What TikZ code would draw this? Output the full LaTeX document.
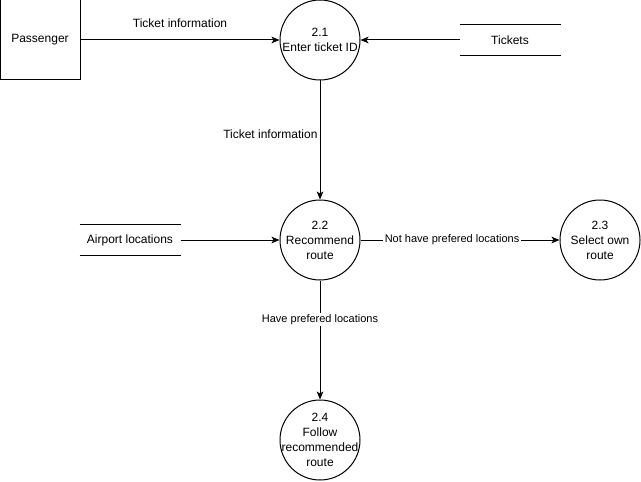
\documentclass[tikz,border=0pt]{standalone}
\usepackage{fontspec}
\setmainfont{Liberation Sans}
\usetikzlibrary{arrows.meta, positioning}

\begin{document}
\begin{tikzpicture}[
  x=0.75pt, y=-0.75pt,
  line width=0.75pt,
  font=\fontsize{9pt}{11.25pt}\selectfont,
  process/.style={circle, draw, minimum size=60pt, inner sep=0pt},
  ptext/.style={align=center, inner sep=0pt},
  entity/.style={rectangle, draw, minimum width=60pt, minimum height=60pt},
  store/.style={minimum width=75pt, minimum height=22.5pt, inner sep=0pt},
  flow/.style={-{Stealth[length=6pt, width=5pt, inset=1.5pt]}},
  lbl/.style={font=\fontsize{8.25pt}{10pt}\selectfont, fill=white, inner sep=1pt}
]
\useasboundingbox (0,0) rectangle (641,481);

\node[entity] (passenger) at (40,40) {Passenger};
\node[process, label={[ptext]center:2.1\\Enter ticket ID}] (p21) at (320,40) {};
\node[store] (tickets) at (510,40) {Tickets};
\node[process, label={[ptext]center:2.2\\Recommend\\route}] (p22) at (320,240) {};
\node[store] (airport) at (130,240) {Airport locations};
\node[process, label={[ptext]center:2.3\\Select own\\route}] (p23) at (600,240) {};
\node[process, label={[ptext]center:2.4\\Follow\\recommended\\route}] (p24) at (320,440) {};

% data stores
\draw (tickets.north west) -- (tickets.north east);
\draw (tickets.south west) -- (tickets.south east);
\draw (airport.north west) -- (airport.north east);
\draw (airport.south west) -- (airport.south east);

% flows
\draw[flow] (passenger) -- node[midway, yshift=12.75pt] {Ticket information} (p21);
\draw[flow] (tickets.west) -- (p21);
\draw[flow] (p21) -- node[pos=0.45, anchor=east, inner sep=1.5pt] {Ticket information} (p22);
\draw[flow] (airport.east) -- (p22);
\draw[flow] (p22) -- node[lbl, pos=0.46] {Not have prefered locations} (p23);
\draw[flow] (p22) -- node[lbl, pos=0.33] {Have prefered locations} (p24);
\end{tikzpicture}
\end{document}
